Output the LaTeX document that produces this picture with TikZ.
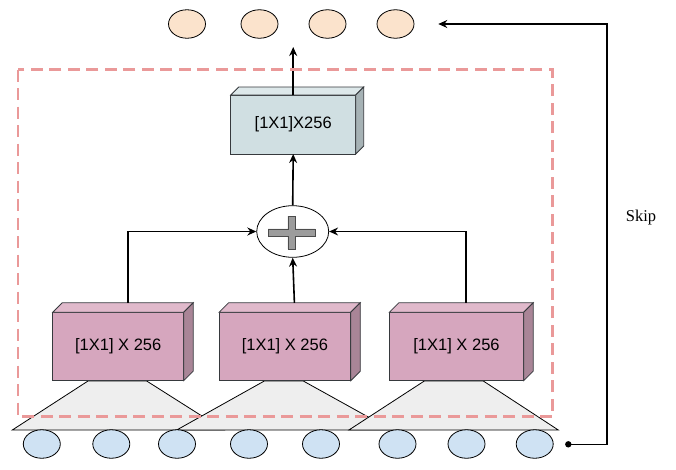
\documentclass[tikz,border=0pt]{standalone}
\usepackage{fontspec}
\setmainfont{Liberation Serif}
\newfontfamily\arialf{Liberation Sans}
\usetikzlibrary{arrows.meta,shapes.geometric}
\definecolor{pinkfront}{HTML}{D6A6BE}
\definecolor{pinktop}{HTML}{E0B9CB}
\definecolor{pinkside}{HTML}{A98597}
\definecolor{bluefront}{HTML}{D0DFE2}
\definecolor{bluetop}{HTML}{DDE8EA}
\definecolor{blueside}{HTML}{A6B2B5}
\definecolor{peach}{HTML}{FBE3CC}
\definecolor{lightblue}{HTML}{CFE2F3}
\definecolor{trapgray}{HTML}{EEEEEE}
\definecolor{dashred}{HTML}{EA9999}
\definecolor{edgec}{HTML}{36393D}
\tikzset{
  cubeedge/.style={draw=edgec, line width=0.8pt},
  cubeface/.style={cubeedge, rectangle, inner sep=0pt, outer sep=0pt,
    font=\arialf\fontsize{16.5}{19}\selectfont},
  oval/.style={ellipse, draw=black, line width=0.8pt, minimum width=37pt, minimum height=28.5pt, inner sep=0pt},
  conn/.style={line width=1.6pt, draw=black},
  tip/.style={-{Stealth[length=9pt,width=8pt,inset=3pt]}},
  trap/.style={draw=black, line width=0.8pt, fill=trapgray},
}
\begin{document}
\begin{tikzpicture}[x=1pt,y=-1pt]
\useasboundingbox (0,0) rectangle (676,469);
% top ellipses
\foreach \n/\cx in {t1/187, t2/259.5, t3/327.5, t4/395.5}
  \node[oval, fill=peach] (\n) at (\cx,24) {};
% trapezoids
\draw[trap] (88,381) -- (146.7,381) -- (224,430) -- (12.3,430) -- cycle;
\draw[trap] (264.3,381) -- (303.3,381) -- (391.7,430) -- (176.7,430) -- cycle;
\draw[trap] (424.3,381) -- (483.3,381) -- (558.3,430) -- (348.9,430) -- cycle;
% bottom ellipses
\foreach \n/\cx in {b1/41.8, b2/111.3, b3/177, b4/249, b5/321, b6/397.5, b7/466.5, b8/534.7}
  \node[oval, fill=lightblue] (\n) at (\cx,444) {};
% bottom cuboids
\foreach \n/\cx/\w in {p1/118.2/131, p2/284.9/131.7, p3/456.5/134.4}{
  \node[cubeface, fill=pinkfront, minimum width=\w pt, minimum height=68.4pt] (\n) at (\cx,346.5) {[1X1] X 256};
  \draw[cubeedge, fill=pinktop] (\n.north west) -- ++(9.5,-9.5) -- ([shift={(9.5,-9.5)}]\n.north east) -- (\n.north east) -- cycle;
  \draw[cubeedge, fill=pinkside] (\n.north east) -- ++(9.5,-9.5) -- ([shift={(9.5,-9.5)}]\n.south east) -- (\n.south east) -- cycle;
  \coordinate (\n top) at ([shift={(9.5,-9.5)}]\n.north);
}
% top cuboid
\node[cubeface, fill=bluefront, minimum width=125pt, minimum height=59pt] (tb) at (293.2,124.5) {[1X1]X256};
\draw[cubeedge, fill=bluetop] (tb.north west) -- ++(8,-8) -- ([shift={(8,-8)}]tb.north east) -- (tb.north east) -- cycle;
\draw[cubeedge, fill=blueside] (tb.north east) -- ++(8,-8) -- ([shift={(8,-8)}]tb.south east) -- (tb.south east) -- cycle;
% plus node
\node[ellipse, draw=black, fill=white, line width=0.8pt, minimum width=72pt, minimum height=51.6pt, inner sep=0pt] (plus) at (292.7,231.5) {};
\draw[fill=gray!78, draw=gray!60!black, line width=0.6pt, shift={(291.5,232.5)}]
  (-3.7,-16.5) -- (3.7,-16.5) -- (3.7,-3.7) -- (23.5,-3.7) -- (23.5,3.7) -- (3.7,3.7) -- (3.7,16.5)
  -- (-3.7,16.5) -- (-3.7,3.7) -- (-23.5,3.7) -- (-23.5,-3.7) -- (-3.7,-3.7) -- cycle;
% connectors
\draw[conn, tip] (p1top) -- (p1top |- plus.west) -- (plus.west);
\draw[conn, tip] (p3top) -- (p3top |- plus.east) -- (plus.east);
\draw[conn, tip] (p2top) -- (plus.south);
\draw[conn, tip] (plus.north) -- (tb.south);
\coordinate (outtip) at (293.2,47);
\draw[conn, tip] (tb.north) -- (outtip);
% skip
\coordinate (s0) at (568.3,444.3);
\coordinate (sc) at (606.7,24);
\coordinate (s1) at (438.3,24);
\fill (s0) circle (3.2pt);
\draw[conn, tip] (s0) -- (s0 -| sc) -- (sc) -- (s1);
\node[font=\fontsize{16.5}{19}\selectfont] (skip) at (641,218) {Skip};
% dashed frame
\draw[dashred, line width=2.5pt, dash pattern=on 12pt off 6.5pt] (18,69.5) rectangle (552.7,416.7);
\end{tikzpicture}
\end{document}
